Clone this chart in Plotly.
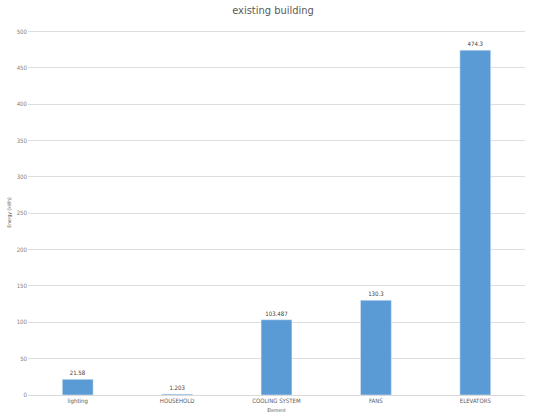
import plotly.graph_objects as go

# Energy use per end-use category in the existing building
categories = ["lighting", "HOUSEHOLD", "COOLING SYSTEM", "FANS", "ELEVATORS"]
values = [21.58, 1.203, 103.487, 130.3, 474.3]
value_labels = ["21.58", "1.203", "103.487", "130.3", "474.3"]
y_ticks = [0, 50, 100, 150, 200, 250, 300, 350, 400, 450, 500]

fig = go.Figure(
    go.Bar(
        x=categories,
        y=values,
        text=value_labels,
        textposition="outside",
        textfont=dict(size=6, color="#404040"),
        marker=dict(color="#5B9BD5"),
        cliponaxis=False,
        width=0.31,
    )
)

fig.update_layout(
    width=546,
    height=419,
    margin=dict(l=28, r=21, t=30, b=24, autoexpand=False),
    paper_bgcolor="white",
    plot_bgcolor="white",
    font=dict(family="Liberation Sans Narrow, DejaVu Sans Condensed, sans-serif", color="#595959"),
    title=dict(
        text="existing building",
        x=0.5,
        xanchor="center",
        y=0.975,
        yanchor="middle",
        font=dict(size=11, color="#595959"),
    ),
    showlegend=False,
    xaxis=dict(
        title=dict(text="Element", font=dict(size=5), standoff=4),
        tickfont=dict(size=6, color="#595959"),
        showgrid=False,
        showline=True,
        linecolor="#d9d9d9",
        ticks="",
        ticklen=0,
    ),
    yaxis=dict(
        title=dict(text="Energy (kWh)", font=dict(size=5), standoff=4),
        range=[0, 502],
        tickvals=y_ticks,
        tickfont=dict(size=6, color="#7f7f7f"),
        showgrid=True,
        gridcolor="#dedede",
        gridwidth=1,
        zeroline=False,
        ticks="",
    ),
)

fig.write_html("out.html")
